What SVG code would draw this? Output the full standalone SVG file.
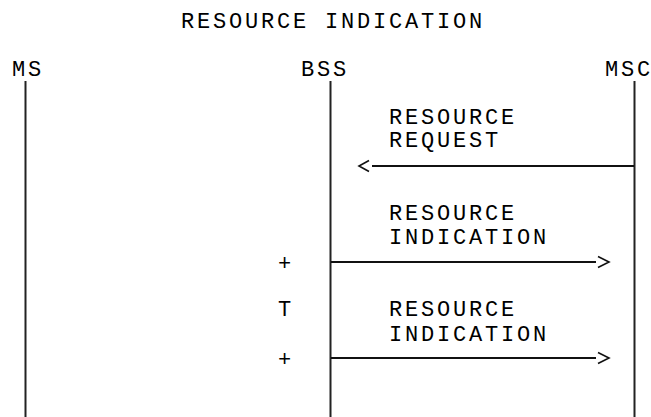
<svg xmlns="http://www.w3.org/2000/svg" width="651" height="417" viewBox="0 0 651 417">
  <style>
    text { font-family: "Liberation Mono", "Courier New", monospace; font-size: 22px; letter-spacing: 2.8px; fill: #000; }
    text.c { letter-spacing: 0; text-anchor: middle; font-size: 22px; }
    text.n { letter-spacing: 0; }
    .life { stroke: #222; stroke-width: 2; fill: none; }
    .msg { stroke: #111; stroke-width: 2; fill: none; }
    .head { stroke: #111; stroke-width: 1.6; fill: none; }
  </style>
  <rect width="651" height="417" fill="#fff"/>
  <text id="title" x="181" y="28">RESOURCE INDICATION</text>

  <g id="MS">
    <text x="12" y="76">MS</text>
    <line class="life" x1="25.5" y1="81" x2="25.5" y2="417"/>
  </g>
  <g id="BSS">
    <text x="301" y="76">BSS</text>
    <line class="life" x1="330.5" y1="81" x2="330.5" y2="417"/>
  </g>
  <g id="MSC">
    <text class="n" x="605 621 637" y="76">MSC</text>
    <line class="life" x1="634.5" y1="81" x2="634.5" y2="417"/>
  </g>

  <g id="connectors">
    <g id="msg1">
      <text x="389" y="124">RESOURCE</text>
      <text x="389" y="147">REQUEST</text>
      <line class="msg" x1="634" y1="166" x2="372" y2="166"/>
      <polyline class="head" points="369,160.5 359,166 369,171.5"/>
    </g>
    <g id="msg2">
      <text x="389" y="220">RESOURCE</text>
      <text x="389" y="244">INDICATION</text>
      <line class="msg" x1="331" y1="262" x2="596" y2="262"/>
      <polyline class="head" points="598,256.5 609,262 598,267.5"/>
    </g>
    <g id="msg3">
      <text x="389" y="316">RESOURCE</text>
      <text x="389" y="341">INDICATION</text>
      <line class="msg" x1="331" y1="358" x2="596" y2="358"/>
      <polyline class="head" points="598,352.5 609,358 598,363.5"/>
    </g>
    <g id="timer">
      <text class="c" x="284.5" y="270">+</text>
      <text class="c" x="284.5" y="316">T</text>
      <text class="c" x="284.5" y="366">+</text>
    </g>
  </g>
</svg>
